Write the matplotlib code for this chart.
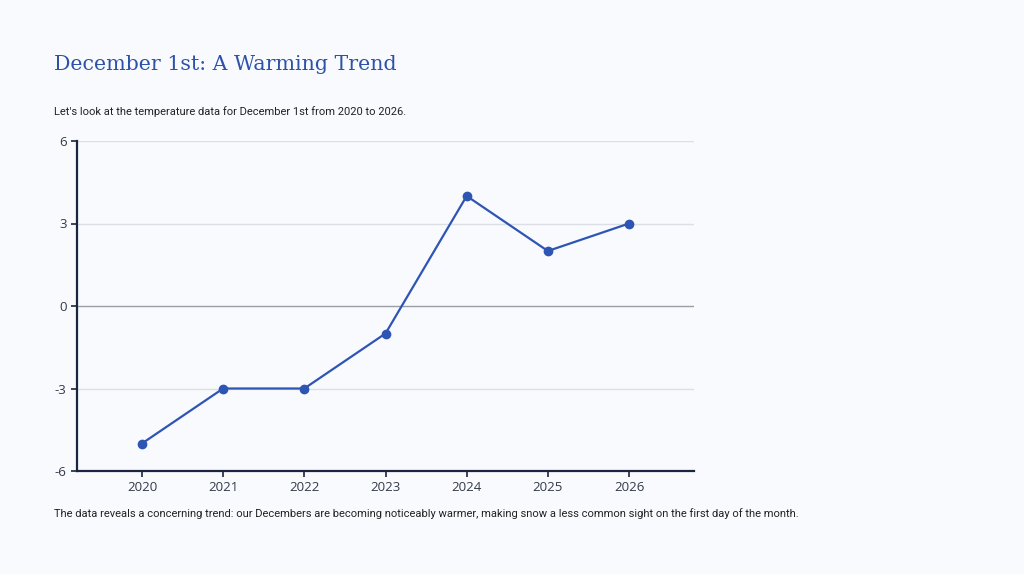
import matplotlib
matplotlib.use("Agg")
from matplotlib import pyplot as plt

anos = [2020, 2021, 2022, 2023, 2024, 2025, 2026]
temperaturas = [-5, -3, -3, -1, 4, 2, 3]
ticks_y = [-6, -3, 0, 3, 6]

fundo = '#f8fafd'
azul = '#2f55b4'
escuro = '#1c2540'

fig = plt.figure(figsize=(10.24, 5.74), dpi=100, facecolor=fundo)
ax = fig.add_axes([77/1024, 1 - 471/574, (694-77)/1024, (471-141)/574])
ax.set_facecolor(fundo)

ax.plot(anos, temperaturas, color=azul, linewidth=1.6, marker='o', markersize=6, zorder=3)

ax.set_xlim(2019.2, 2026.8)
ax.set_ylim(-6, 6)
ax.set_xticks(anos)
ax.set_yticks(ticks_y)
ax.set_yticklabels([str(t) for t in ticks_y])

for t in [-3, 3, 6]:
    ax.axhline(t, color='#dcdfe5', linewidth=1, zorder=1)
ax.axhline(0, color='#9a9ea6', linewidth=1, zorder=1)

for lado in ['top', 'right']:
    ax.spines[lado].set_visible(False)
for lado in ['left', 'bottom']:
    ax.spines[lado].set_color(escuro)
    ax.spines[lado].set_linewidth(1.6)

ax.tick_params(axis='both', colors=escuro, labelcolor='#333a48', labelsize=9.5, length=4, width=1.2)
for lbl in ax.get_xticklabels() + ax.get_yticklabels():
    lbl.set_family('Open Sans')

fig.text(54/1024, 1 - 65/574, 'December 1st: A Warming Trend', fontsize=14.8, color='#2d52a8',
         family='DejaVu Serif', va='center', ha='left')
fig.text(54/1024, 1 - 112/574, "Let's look at the temperature data for December 1st from 2020 to 2026.",
         fontsize=8, color='#222222', family='Roboto', va='center', ha='left')
fig.text(54/1024, 1 - 514/574, 'The data reveals a concerning trend: our Decembers are becoming noticeably warmer, '
         'making snow a less common sight on the first day of the month.',
         fontsize=8, color='#222222', family='Roboto', va='center', ha='left')

fig.savefig('out.png', dpi=100, facecolor=fundo)
